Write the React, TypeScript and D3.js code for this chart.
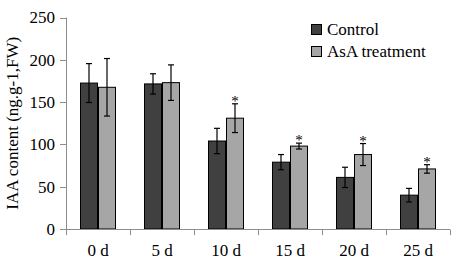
import React from "react";
import * as d3 from "d3";

const categories = ["0 d", "5 d", "10 d", "15 d", "20 d", "25 d"];
const controlValues = [172.5, 171.5, 104, 79, 61, 40];
const controlErrors = [23, 12, 15, 9, 12, 8];
const treatmentValues = [167.5, 173, 131, 98, 88, 71];
const treatmentErrors = [34, 21, 17, 3.5, 13, 5];
const treatmentSignificant = [false, false, true, true, true, true];
const yTicks = [0, 50, 100, 150, 200, 250];
const seriesNames = ["Control", "AsA treatment"];
const seriesColors = ["#404040", "#a6a6a6"];

const W = 454;
const H = 261;
const FONT = "Liberation Serif";

export default function App() {
  const x = d3.scaleBand<string>().domain(categories).range([66, 450]);
  const y = d3.scaleLinear().domain([0, 250]).range([229, 17.5]);
  const barW = 18;
  const axisColor = "#8c8c8c";
  const ts = { fontFamily: FONT };

  const series = [
    { values: controlValues, errors: controlErrors, offset: -barW },
    { values: treatmentValues, errors: treatmentErrors, offset: 0 },
  ];

  return (
    <svg
      width={W}
      height={H}
      style={{ position: "absolute", left: 0, top: 0, background: "#fff" }}
    >
      <line x1={66.5} x2={66.5} y1={y(250)} y2={y(0)} stroke={axisColor} strokeWidth={1} />
      {yTicks.map((t) => (
        <g key={t}>
          <line x1={60} x2={66.5} y1={Math.round(y(t)) + 0.5} y2={Math.round(y(t)) + 0.5} stroke={axisColor} />
          <text x={55} y={y(t)} dy="0.35em" textAnchor="end" fontSize={17} fill="#000" style={ts}>
            {t}
          </text>
        </g>
      ))}
      {series.map((s, si) =>
        categories.map((c, i) => {
          const cx = (x(c) as number) + x.bandwidth() / 2;
          const bx = cx + s.offset;
          const top = y(s.values[i]);
          const errTop = y(s.values[i] + s.errors[i]);
          const errBot = y(s.values[i] - s.errors[i]);
          const ex = bx + barW / 2;
          return (
            <g key={si + "-" + c}>
              <rect
                x={bx + 0.5}
                y={top}
                width={barW - 1}
                height={y(0) - top}
                fill={seriesColors[si]}
                stroke="#000"
                strokeWidth={1}
              />
              <line x1={ex} x2={ex} y1={errTop} y2={errBot} stroke="#000" strokeWidth={1.2} />
              <line x1={ex - 3} x2={ex + 3} y1={errTop} y2={errTop} stroke="#000" strokeWidth={1.2} />
              <line x1={ex - 3} x2={ex + 3} y1={errBot} y2={errBot} stroke="#000" strokeWidth={1.2} />
              {si === 1 && treatmentSignificant[i] && (
                <text x={ex} y={errTop + 2} textAnchor="middle" fontSize={15} fill="#000" style={ts}>
                  *
                </text>
              )}
            </g>
          );
        })
      )}
      <line x1={66} x2={450} y1={229.5} y2={229.5} stroke={axisColor} strokeWidth={1} />
      {[...categories.map((c) => x(c) as number), 450].map((px, i) => (
        <line key={i} x1={Math.round(px) + 0.5} x2={Math.round(px) + 0.5} y1={229.5} y2={235} stroke={axisColor} />
      ))}
      {categories.map((c) => (
        <text
          key={c}
          x={(x(c) as number) + x.bandwidth() / 2}
          y={256}
          textAnchor="middle"
          fontSize={17}
          fill="#000"
          style={ts}
        >
          {c}
        </text>
      ))}
      <text
        transform={`translate(18, ${y(125)}) rotate(-90)`}
        textAnchor="middle"
        fontSize={17}
        fill="#000"
        style={ts}
      >
        IAA content (ng.g-1,FW)
      </text>
      {seriesNames.map((n, i) => (
        <g key={n} transform={`translate(311, ${24 + i * 22})`}>
          <rect x={0.5} y={0.5} width={10} height={10} fill={seriesColors[i]} stroke="#000" />
          <text x={16} y={11} fontSize={17} fill="#000" style={ts}>
            {n}
          </text>
        </g>
      ))}
    </svg>
  );
}
